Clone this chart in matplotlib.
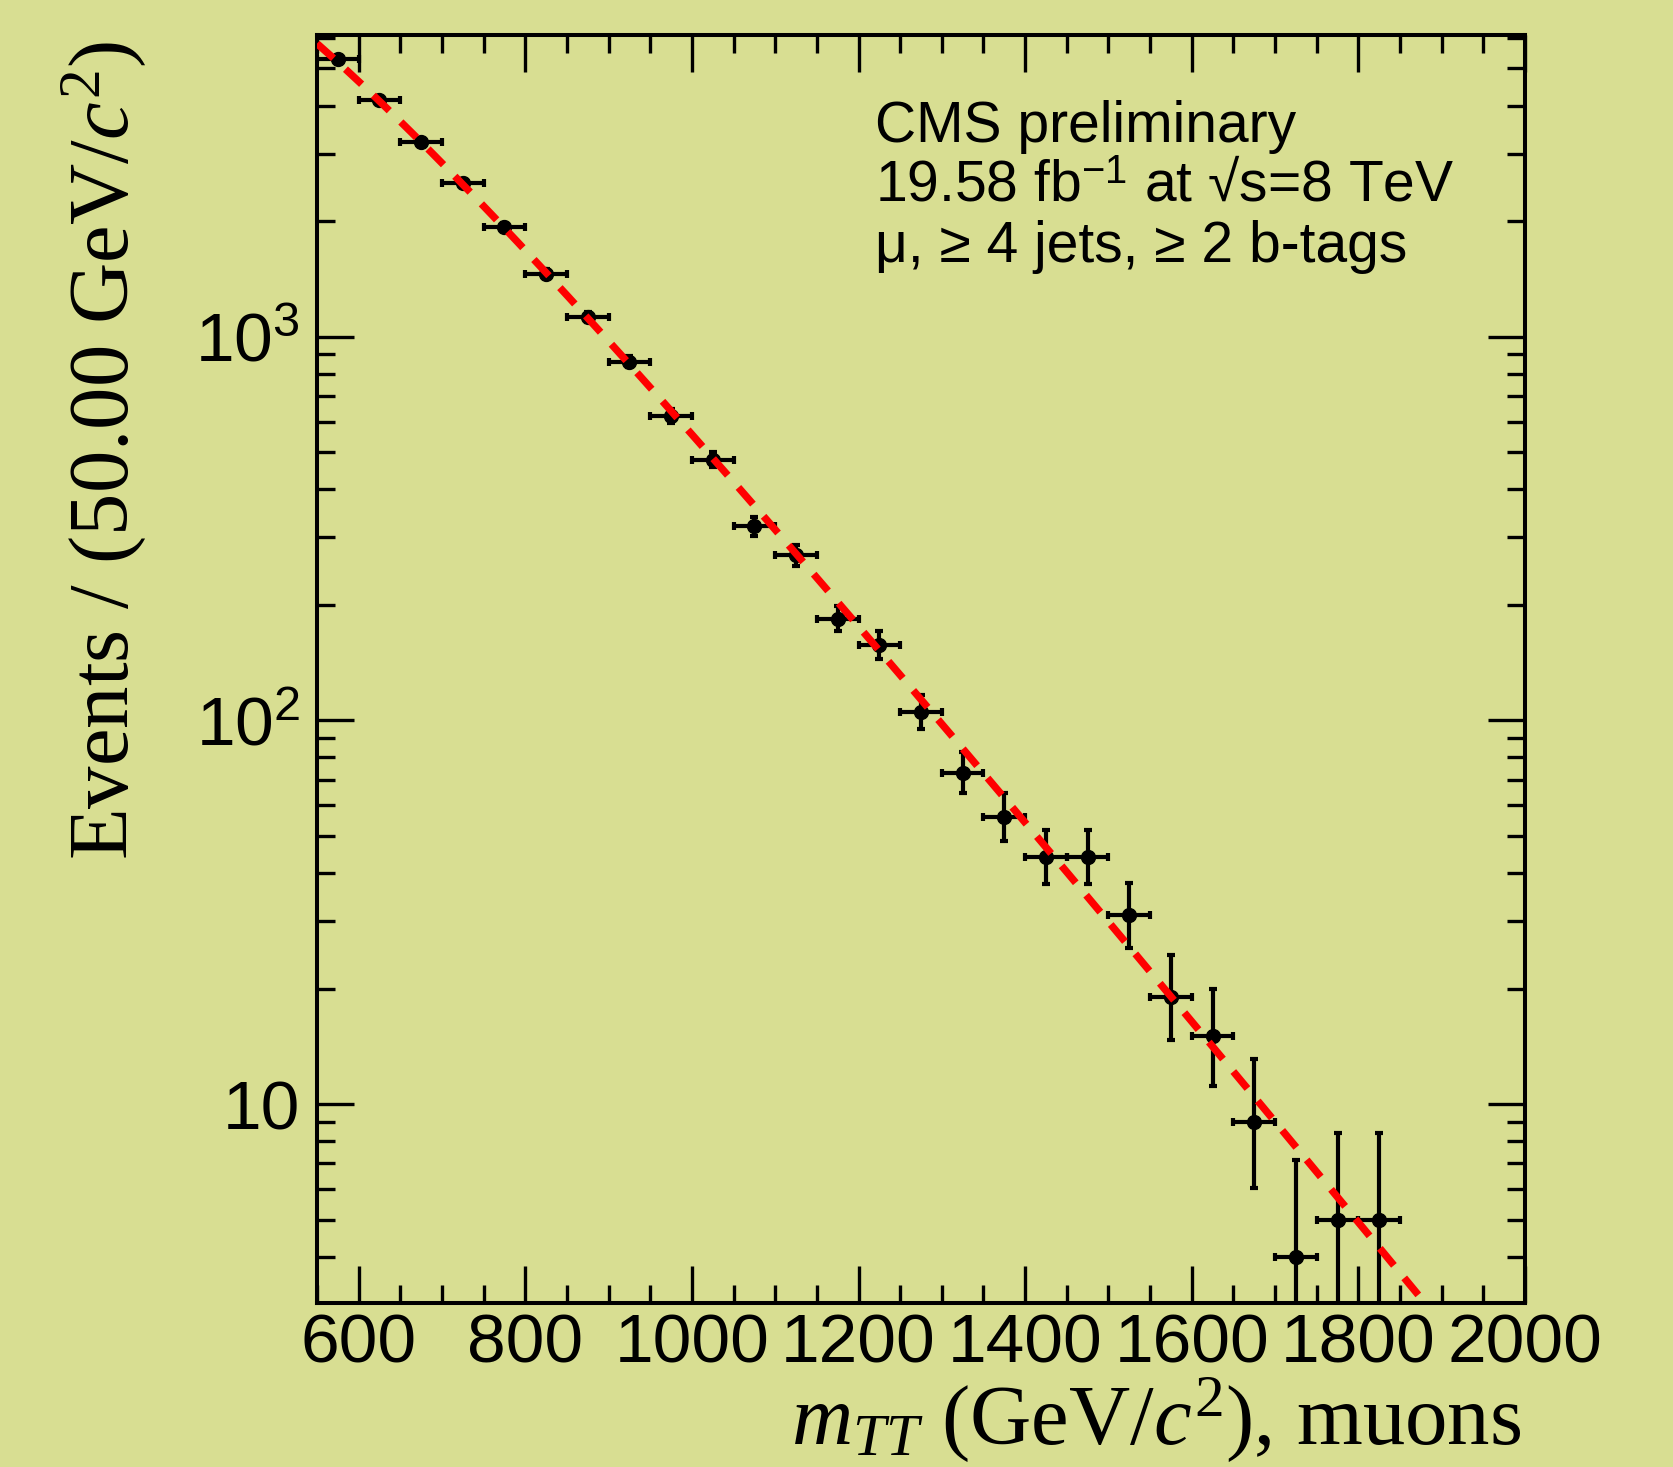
import numpy as np
import matplotlib
matplotlib.use("Agg")
import matplotlib.pyplot as plt
from matplotlib.ticker import FixedLocator, FixedFormatter, NullFormatter

# binned data: m_TT bin centres (GeV) and event counts per 50 GeV
mass = [575, 625, 675, 725, 775, 825, 875, 925, 975, 1025, 1075, 1125, 1175,
        1225, 1275, 1325, 1375, 1425, 1475, 1525, 1575, 1625, 1675, 1725,
        1775, 1825]
events = [5296, 4140, 3221, 2518, 1932, 1458, 1127, 861, 622, 478, 320, 269,
          184, 157, 105, 73, 56, 44, 44, 31, 19, 15, 9, 4, 5, 5]
bin_width = 50

# fit: log10(N) = p0 + p1*m + p2/m
fit_pars = [5.685, -0.0027, -240.0]

x_ticks = [600, 800, 1000, 1200, 1400, 1600, 1800, 2000]
y_ticks = [10, 100, 1000]
y_tick_labels = ["10", r"$\mathsf{10^{2}}$", r"$\mathsf{10^{3}}$"]

bg = "#d8de92"


def poisson_cdf(k, mu):
    if k < 0:
        return 0.0
    ks = np.arange(k + 1)
    logfact = np.concatenate([[0.0], np.cumsum(np.log(np.arange(1, k + 1)))])
    return np.exp(ks * np.log(mu) - mu - logfact).sum()


def solve(f, target, lo, hi):
    # f decreasing in mu
    for _ in range(70):
        mid = 0.5 * (lo + hi)
        if f(mid) > target:
            lo = mid
        else:
            hi = mid
    return 0.5 * (lo + hi)


def poisson_interval(n, alpha=0.158655):
    hi_b = n + 10 * np.sqrt(n) + 10
    low = 0.0 if n == 0 else solve(lambda mu: poisson_cdf(n - 1, mu), 1 - alpha, 1e-9, hi_b)
    up = solve(lambda mu: poisson_cdf(n, mu), alpha, 1e-9, hi_b)
    return low, up


err_lo, err_hi = [], []
for n in events:
    lo, up = poisson_interval(n)
    err_lo.append(n - lo)
    err_hi.append(up - n)

plt.rcParams["font.family"] = ["Liberation Sans", "DejaVu Sans"]
plt.rcParams["mathtext.fontset"] = "custom"
plt.rcParams["mathtext.rm"] = "Liberation Serif"
plt.rcParams["mathtext.it"] = "Liberation Serif:italic"
plt.rcParams["mathtext.bf"] = "Liberation Serif:bold"
plt.rcParams["mathtext.sf"] = "Liberation Sans"

W, H = 1674, 1467
fig = plt.figure(figsize=(W / 100, H / 100), dpi=100, facecolor=bg)
ax = fig.add_axes([317 / W, 1 - 1303 / H, (1525 - 317) / W, (1303 - 35) / H])
ax.set_facecolor(bg)

ax.errorbar(mass, events, xerr=bin_width / 2, yerr=[err_lo, err_hi], fmt="o",
            color="black", ms=10, elinewidth=3.0, capsize=2.6, capthick=3.0,
            zorder=3)

xf = np.linspace(550, 2000, 500)
yf = 10 ** (fit_pars[0] + fit_pars[1] * xf + fit_pars[2] / xf)
ax.plot(xf, yf, color="red", lw=5.3, dashes=(3.0, 2.2), zorder=4)

ax.set_yscale("log")
ax.set_xlim(550, 2000)
ax.set_ylim(3.03, 6109)

ax.xaxis.set_major_locator(FixedLocator(x_ticks))
ax.xaxis.set_major_formatter(FixedFormatter([str(t) for t in x_ticks]))
ax.xaxis.set_minor_locator(FixedLocator(list(range(550, 2001, 50))))
ax.yaxis.set_major_locator(FixedLocator(y_ticks))
ax.yaxis.set_major_formatter(FixedFormatter(y_tick_labels))
minor_y = [s * d for d in [1, 10, 100, 1000] for s in range(2, 10)]
ax.yaxis.set_minor_locator(FixedLocator(minor_y))
ax.yaxis.set_minor_formatter(NullFormatter())

ax.tick_params(which="both", direction="in", top=True, right=True,
               width=2.4, color="black", labelsize=50)
ax.tick_params(which="major", length=26.6)
ax.tick_params(which="minor", length=13)
ax.tick_params(axis="x", which="major", pad=7)
ax.tick_params(axis="y", which="major", pad=12)
for sp in ax.spines.values():
    sp.set_linewidth(2.9)
    sp.set_color("black")

# axis titles
fig.text(128 / W, 1 - 860 / H, r"Events / (50.00 GeV/$c^{2}$)",
         family="Liberation Serif", fontsize=61, rotation=90,
         rotation_mode="anchor", ha="left", va="baseline")
fig.text(1521 / W, 1 - 1444 / H, r"$m_{TT}$ (GeV/$c^{2}$), muons",
         family="Liberation Serif", fontsize=61, ha="right", va="baseline")

# labels
fig.text(875 / W, 1 - 142 / H, "CMS preliminary", fontsize=41,
         ha="left", va="baseline")
fig.text(875 / W, 1 - 201 / H, r"19.58 fb$^{\mathsf{-1}}$ at √s=8 TeV",
         fontsize=41, ha="left", va="baseline")
fig.text(875 / W, 1 - 262 / H, "μ, ≥ 4 jets, ≥ 2 b-tags", fontsize=41,
         ha="left", va="baseline")

fig.savefig("out.png", dpi=100, facecolor=bg)
